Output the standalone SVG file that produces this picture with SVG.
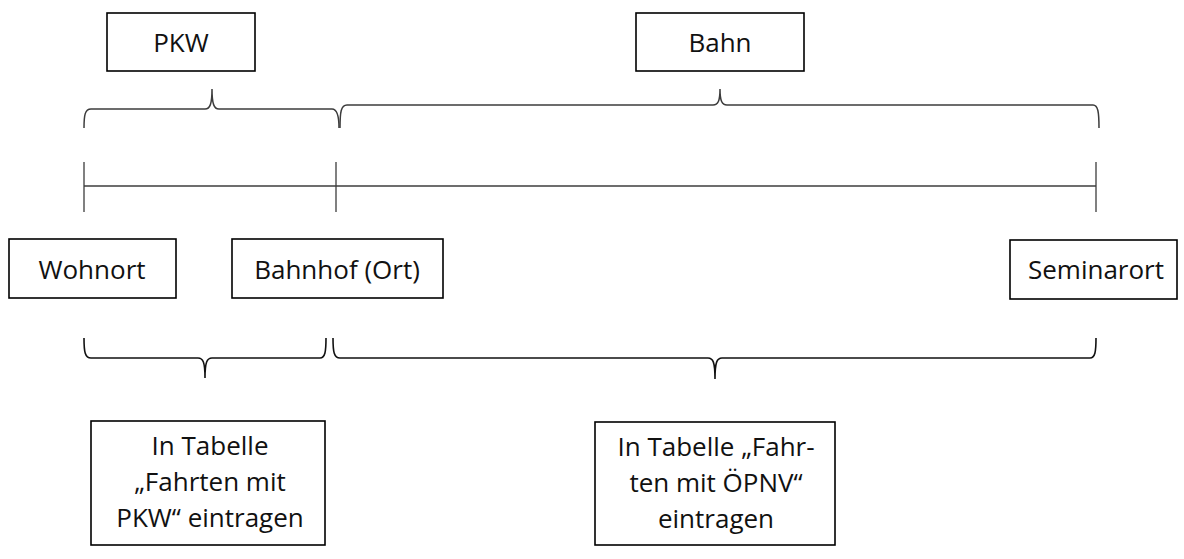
<svg xmlns="http://www.w3.org/2000/svg" width="1184" height="559" viewBox="0 0 1184 559">
  <style>
    .box { fill: #ffffff; stroke: #000000; stroke-width: 1.6; }
    .label { font-family: "Open Sans", "Liberation Sans", sans-serif; font-size: 26px; fill: #111111; text-anchor: middle; }
    .brace-top { fill: none; stroke: #3c3c3c; stroke-width: 1.5; }
    .brace-bottom { fill: none; stroke: #111111; stroke-width: 1.6; }
    .line { fill: none; stroke: #3c3c3c; stroke-width: 1.3; }
  </style>

  <rect width="1184" height="559" fill="#ffffff"/>

  <!-- connectors: timeline and braces -->
  <g id="connectors">
    <!-- timeline -->
    <line class="line" x1="84" y1="186" x2="1096" y2="186"/>
    <line class="line" x1="84" y1="162" x2="84" y2="212"/>
    <line class="line" x1="336" y1="162" x2="336" y2="212"/>
    <line class="line" x1="1096" y1="162" x2="1096" y2="212"/>

    <!-- upper braces -->
    <path class="brace-top" d="M84,128 C84,115 85,109 91,109 L205,109 C210,109 212,104 212,89 C212,104 214,109 219,109 L332,109 C337,109 339,115 339,128"/>
    <path class="brace-top" d="M340,128 C340,112 341,105 347,105 L713,105 C718,105 720,101 720,89 C720,101 722,105 727,105 L1093,105 C1098,105 1099,112 1099,128"/>

    <!-- lower braces -->
    <path class="brace-bottom" d="M84,338 C84,352 85,358 91,358 L198,358 C203,358 205,362 205,378 C205,362 207,358 212,358 L320,358 C325,358 326,352 326,338"/>
    <path class="brace-bottom" d="M333,338 C333,352 334,358 340,358 L708,358 C713,358 715,362 715,379 C715,362 717,358 722,358 L1090,358 C1095,358 1096,352 1096,338"/>
  </g>

  <g id="node-pkw">
    <rect class="box" x="107" y="13" width="148" height="58"/>
    <text class="label" x="181" y="52">PKW</text>
  </g>

  <g id="node-bahn">
    <rect class="box" x="636" y="13" width="168" height="58"/>
    <text class="label" x="720" y="52">Bahn</text>
  </g>

  <g id="node-wohnort">
    <rect class="box" x="9" y="239" width="167" height="59"/>
    <text class="label" x="92" y="279">Wohnort</text>
  </g>

  <g id="node-bahnhof">
    <rect class="box" x="232" y="239" width="211" height="59"/>
    <text class="label" x="337" y="279">Bahnhof (Ort)</text>
  </g>

  <g id="node-seminarort">
    <rect class="box" x="1010" y="240" width="167" height="59"/>
    <text class="label" x="1096" y="279">Seminarort</text>
  </g>

  <g id="node-tabelle-pkw">
    <rect class="box" x="91" y="421" width="234" height="124"/>
    <text class="label" x="210" y="455">In Tabelle</text>
    <text class="label" x="210" y="491">„Fahrten mit</text>
    <text class="label" x="210" y="527">PKW“ eintragen</text>
  </g>

  <g id="node-tabelle-oepnv">
    <rect class="box" x="595" y="422" width="240" height="123"/>
    <text class="label" x="716" y="456">In Tabelle „Fahr-</text>
    <text class="label" x="716" y="492">ten mit ÖPNV“</text>
    <text class="label" x="716" y="528">eintragen</text>
  </g>
</svg>
